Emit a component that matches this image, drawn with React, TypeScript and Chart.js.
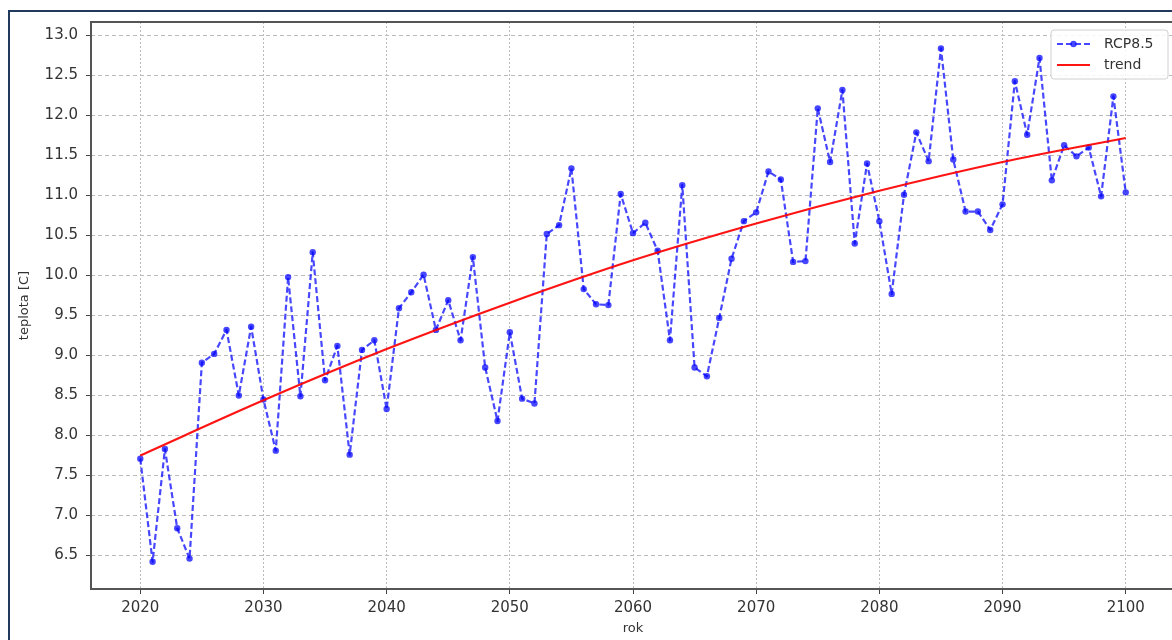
import React, { useEffect, useRef } from "react";
import { Chart, registerables } from "chart.js";

Chart.register(...registerables);

const START_YEAR = 2020;
const rcp85 = [
  7.71, 6.42, 7.83, 6.84, 6.46, 8.91, 9.02, 9.32, 8.5, 9.36,
  8.45, 7.81, 9.98, 8.49, 10.29, 8.69, 9.12, 7.76, 9.07, 9.19,
  8.33, 9.59, 9.79, 10.01, 9.32, 9.69, 9.19, 10.23, 8.85, 8.18,
  9.29, 8.46, 8.4, 10.52, 10.63, 11.34, 9.83, 9.64, 9.63, 11.02,
  10.53, 10.66, 10.31, 9.19, 11.13, 8.85, 8.74, 9.47, 10.21, 10.68,
  10.79, 11.3, 11.2, 10.17, 10.18, 12.09, 11.42, 12.32, 10.4, 11.4,
  10.68, 9.77, 11.01, 11.79, 11.43, 12.84, 11.45, 10.8, 10.8, 10.57,
  10.89, 12.43, 11.76, 12.72, 11.19, 11.63, 11.49, 11.6, 10.99, 12.24,
  11.04,
];
const years = rcp85.map((_, i) => START_YEAR + i);

const trendYears = [2020, 2030, 2040, 2050, 2060, 2070, 2080, 2090, 2100];
const trendValues = [7.75, 8.44, 9.08, 9.66, 10.19, 10.65, 11.06, 11.42, 11.72];

const xTicks = [2020, 2030, 2040, 2050, 2060, 2070, 2080, 2090, 2100];
const yTicks = [6.5, 7.0, 7.5, 8.0, 8.5, 9.0, 9.5, 10.0, 10.5, 11.0, 11.5, 12.0, 12.5, 13.0];

const seriesLabels = ["RCP8.5", "trend"];
const xTitle = "rok";
const yTitle = "teplota [C]";

const BLUE = "rgba(0,0,255,0.72)";
const RED = "rgba(255,0,0,0.92)";
const FONT = "'DejaVu Sans', sans-serif";

const framePlugin = {
  id: "frame",
  afterDatasetsDraw(chart: any) {
    const { ctx, chartArea } = chart;
    ctx.save();
    ctx.strokeStyle = "#555";
    ctx.lineWidth = 2;
    ctx.strokeRect(chartArea.left, chartArea.top, chartArea.right - chartArea.left, chartArea.bottom - chartArea.top);
    ctx.restore();
  },
  afterDraw(chart: any) {
    const { ctx } = chart;
    ctx.save();
    const bx = 1051, by = 30, bw = 117, bh = 49;
    ctx.beginPath();
    const r = 3;
    ctx.moveTo(bx + r, by);
    ctx.lineTo(bx + bw - r, by);
    ctx.quadraticCurveTo(bx + bw, by, bx + bw, by + r);
    ctx.lineTo(bx + bw, by + bh - r);
    ctx.quadraticCurveTo(bx + bw, by + bh, bx + bw - r, by + bh);
    ctx.lineTo(bx + r, by + bh);
    ctx.quadraticCurveTo(bx, by + bh, bx, by + bh - r);
    ctx.lineTo(bx, by + r);
    ctx.quadraticCurveTo(bx, by, bx + r, by);
    ctx.closePath();
    ctx.fillStyle = "rgba(255,255,255,0.85)";
    ctx.fill();
    ctx.strokeStyle = "#d0d0d0";
    ctx.lineWidth = 1;
    ctx.stroke();

    // RCP8.5 sample
    ctx.strokeStyle = BLUE;
    ctx.lineWidth = 2.2;
    ctx.setLineDash([6, 3]);
    ctx.beginPath();
    ctx.moveTo(1057, 44);
    ctx.lineTo(1090, 44);
    ctx.stroke();
    ctx.setLineDash([]);
    ctx.fillStyle = BLUE;
    ctx.beginPath();
    ctx.arc(1073.5, 44, 3.2, 0, Math.PI * 2);
    ctx.fill();

    // trend sample
    ctx.strokeStyle = RED;
    ctx.lineWidth = 2.2;
    ctx.beginPath();
    ctx.moveTo(1057, 65);
    ctx.lineTo(1090, 65);
    ctx.stroke();

    ctx.fillStyle = "#333";
    ctx.font = `14px ${FONT}`;
    ctx.textBaseline = "middle";
    ctx.textAlign = "left";
    ctx.fillText(seriesLabels[0], 1104, 44);
    ctx.fillText(seriesLabels[1], 1104, 65);
    ctx.restore();
  },
};

export default function App() {
  const ref = useRef<HTMLCanvasElement>(null);
  useEffect(() => {
    if (!ref.current) return;
    const chart = new Chart(ref.current, {
      type: "line",
      data: {
        datasets: [
          {
            label: seriesLabels[1],
            data: trendYears.map((x, i) => ({ x, y: trendValues[i] })),
            borderColor: RED,
            backgroundColor: RED,
            borderWidth: 2.2,
            pointRadius: 0,
            cubicInterpolationMode: "monotone",
            order: 0,
          },
          {
            label: seriesLabels[0],
            data: years.map((x, i) => ({ x, y: rcp85[i] })),
            borderColor: BLUE,
            backgroundColor: BLUE,
            borderWidth: 2.2,
            borderDash: [6, 3],
            borderJoinStyle: "round",
            pointRadius: 3.2,
            pointBorderWidth: 0,
            pointBackgroundColor: BLUE,
            tension: 0,
            order: 1,
          },
        ],
      },
      options: {
        animation: false,
        responsive: false,
        devicePixelRatio: 1,
        layout: { padding: { top: 22, right: 25, left: 0, bottom: 0 } },
        plugins: { legend: { display: false }, tooltip: { enabled: false }, title: { display: false } },
        scales: {
          x: {
            type: "linear",
            min: 2016,
            max: 2104,
            afterBuildTicks: (s: any) => {
              s.ticks = xTicks.map((v) => ({ value: v }));
            },
            afterFit: (s: any) => {
              s.height = 51;
            },
            ticks: {
              callback: (v: any) => String(v),
              font: { family: FONT, size: 15 },
              color: "#333",
              padding: 5,
              maxRotation: 0,
              autoSkip: false,
            },
            grid: {
              color: "#bbbbbb",
              lineWidth: 1,
              drawTicks: true,
              tickLength: 5,
              tickColor: "#444",
              tickWidth: 1,
              tickBorderDash: [],
            },
            border: { display: false, dash: [2, 2] },
            title: {
              display: true,
              text: xTitle,
              font: { family: FONT, size: 13 },
              color: "#333",
              padding: { top: 0, bottom: 4 },
            },
          },
          y: {
            type: "linear",
            min: 6.08,
            max: 13.17,
            afterBuildTicks: (s: any) => {
              s.ticks = yTicks.map((v) => ({ value: v }));
            },
            afterFit: (s: any) => {
              s.width = 91;
            },
            ticks: {
              callback: (v: any) => Number(v).toFixed(1),
              font: { family: FONT, size: 15 },
              color: "#333",
              padding: 8,
              autoSkip: false,
            },
            grid: {
              color: "#bbbbbb",
              lineWidth: 1,
              drawTicks: true,
              tickLength: 5,
              tickColor: "#444",
              tickWidth: 1,
              tickBorderDash: [],
            },
            border: { display: false, dash: [4, 3] },
            title: {
              display: true,
              text: yTitle,
              font: { family: FONT, size: 13 },
              color: "#333",
              padding: { top: 17, bottom: 0 },
            },
          },
        },
      },
      plugins: [framePlugin],
    } as any);
    return () => chart.destroy();
  }, []);

  return (
    <div style={{ position: "absolute", left: 0, top: 0, width: 1172, height: 640, overflow: "hidden", background: "#fff" }}>
      <canvas ref={ref} width={1200} height={640} style={{ position: "absolute", left: 0, top: 0, width: 1200, height: 640 }} />
      <div
        style={{
          position: "absolute",
          left: 8,
          top: 10,
          width: 1200,
          height: 700,
          borderLeft: "2px solid #1f3a5c",
          borderTop: "2px solid #1f3a5c",
          pointerEvents: "none",
        }}
      />
    </div>
  );
}
